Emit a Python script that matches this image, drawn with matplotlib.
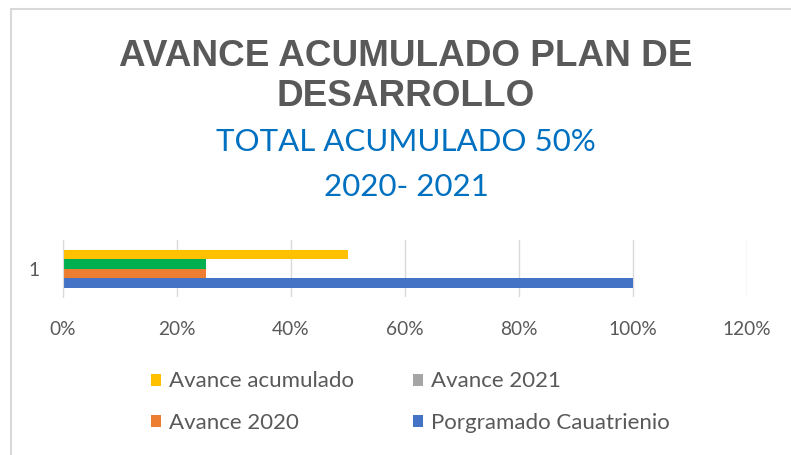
import matplotlib
matplotlib.use('Agg')
import matplotlib.pyplot as plt
from matplotlib.patches import Patch, Rectangle

# datos
categorias = ['1']
series = ['Porgramado Cauatrienio', 'Avance 2020', 'Avance 2021', 'Avance acumulado']
valores = [1.00, 0.25, 0.25, 0.50]
colores_barra = ['#4472C4', '#ED7D31', '#00B050', '#FFC000']
colores_leyenda = ['#4472C4', '#ED7D31', '#A5A5A5', '#FFC000']
ticks_x = [0, 0.2, 0.4, 0.6, 0.8, 1.0, 1.2]

gris = '#595959'
azul = '#0070C0'

fig = plt.figure(figsize=(7.91, 4.55), dpi=100)
fig.patch.set_facecolor('white')

# marco del grafico
fig.patches.append(Rectangle((11/791, -0.1), 1.2, 1 - 9/455 + 0.1, transform=fig.transFigure,
                             fill=False, edgecolor='#D9D9D9', linewidth=1.5))

ax = fig.add_axes([63/791, 1 - 297/455, 684/791, 57/455])

h = 9.5 / 57
for i, (s, v, c) in enumerate(zip(series, valores, colores_barra)):
    ax.barh((i - 1.5) * h, v, height=h, color=c, label=s)

ax.set_xlim(0, 1.2)
ax.set_ylim(-0.5, 0.5)
ax.set_xticks(ticks_x)
ax.set_xticklabels([f'{int(round(t * 100))}%' for t in ticks_x])
ax.set_yticks([0])
ax.set_yticklabels(categorias)
ax.grid(axis='x', color='#D9D9D9', linewidth=1)
ax.set_axisbelow(True)
for sp in ['top', 'right', 'bottom']:
    ax.spines[sp].set_visible(False)
ax.spines['left'].set_color('#D9D9D9')
ax.tick_params(length=0, labelsize=13.8, labelcolor=gris)
ax.tick_params(axis='x', pad=17)
ax.tick_params(axis='y', pad=17)
for lbl in ax.get_xticklabels() + ax.get_yticklabels():
    lbl.set_fontfamily('Lato')

# titulos
xc = 406 / 791
fig.text(xc, 1 - 57/455, 'AVANCE ACUMULADO PLAN DE', ha='center', va='center',
         fontsize=26.6, fontweight='bold', color=gris, family='Liberation Sans')
fig.text(xc, 1 - 97/455, 'DESARROLLO', ha='center', va='center',
         fontsize=26.6, fontweight='bold', color=gris, family='Liberation Sans')
fig.text(xc, 1 - 142/455, 'TOTAL ACUMULADO 50%', ha='center', va='center',
         fontsize=22.5, color=azul, family='Lato')
fig.text(xc, 1 - 187/455, '2020- 2021', ha='center', va='center',
         fontsize=22.5, color=azul, family='Lato')

# leyenda (por filas: acumulado, 2021 / 2020, programado)
orden = [3, 1, 2, 0]
handles = [Patch(facecolor=colores_leyenda[i], edgecolor='none') for i in orden]
labels = [series[i] for i in orden]
fig.legend(handles, labels, ncol=2, loc='center', bbox_to_anchor=(410/791, 1 - 402/455),
           frameon=False, prop={'family': 'Lato', 'size': 16}, labelcolor=gris,
           handlelength=0.45, handleheight=0.45, handletextpad=0.36,
           columnspacing=2.66, labelspacing=0.95, borderpad=0, borderaxespad=0)

fig.savefig('out.png', dpi=100)
